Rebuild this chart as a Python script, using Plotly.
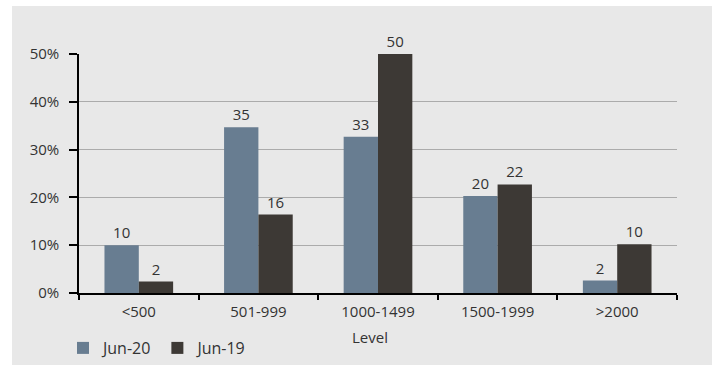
import plotly.graph_objects as go

categories = ["<500", "501-999", "1000-1499", "1500-1999", ">2000"]
jun20 = [10.0, 34.7, 32.7, 20.3, 2.6]
jun19 = [2.4, 16.4, 50.0, 22.7, 10.2]
jun20_labels = ["10", "35", "33", "20", "2"]
jun19_labels = ["2", "16", "50", "22", "10"]
y_ticks = [0, 10, 20, 30, 40, 50]
y_tick_labels = ["0%", "10%", "20%", "30%", "40%", "50%"]

FONT = "Open Sans"
TXT = "#333333"
BG = "#e8e8e8"

fig = go.Figure()
fig.add_trace(go.Bar(name="Jun-20", x=categories, y=jun20, text=jun20_labels,
                     textposition="outside", cliponaxis=False,
                     marker=dict(color="#687d91", line=dict(width=0)),
                     textfont=dict(family=FONT, size=15, color=TXT)))
fig.add_trace(go.Bar(name="Jun-19", x=categories, y=jun19, text=jun19_labels,
                     textposition="outside", cliponaxis=False,
                     marker=dict(color="#3d3935", line=dict(width=0)),
                     textfont=dict(family=FONT, size=15, color=TXT)))

L, R, T, B = 79, 35, 54, 72
W, H = 712, 365
pw, ph = W - L - R, H - T - B


def px_x(px):
    return (px - L) / pw


def px_y(py):
    return (T + ph - py) / ph


fig.update_layout(
    width=W, height=H,
    margin=dict(l=L, r=R, t=T, b=B, autoexpand=False),
    paper_bgcolor=BG, plot_bgcolor=BG,
    barmode="group", bargap=0.426, bargroupgap=0,
    font=dict(family=FONT, size=15, color=TXT),
    showlegend=True,
    legend=dict(orientation="h", xref="container", yref="container",
                x=63 / W, xanchor="left",
                y=1 - 348 / H, yanchor="middle",
                bgcolor="rgba(0,0,0,0)", font=dict(family=FONT, size=16, color=TXT),
                itemwidth=30, tracegroupgap=0),
    xaxis=dict(type="category", showline=True, linecolor="black", linewidth=2,
               ticks="outside", tickson="boundaries", ticklen=5, tickwidth=2,
               tickcolor="black", showgrid=False, ticklabelstandoff=4,
               tickfont=dict(family=FONT, size=15, color=TXT)),
    yaxis=dict(range=[0, 50], tickvals=y_ticks, ticktext=y_tick_labels,
               showline=True, linecolor="black", linewidth=1.5,
               ticks="outside", ticklen=8, tickwidth=1.5, tickcolor="black",
               showgrid=True, gridcolor="#ababab", gridwidth=1,
               zeroline=False, ticklabelstandoff=7,
               tickfont=dict(family=FONT, size=15, color=TXT)),
    annotations=[dict(text="Level", xref="paper", yref="paper",
                      x=px_x(370), y=px_y(337),
                      xanchor="center", yanchor="middle", showarrow=False,
                      font=dict(family=FONT, size=15, color=TXT))],
    shapes=[
        dict(type="rect", xref="paper", yref="paper",
             x0=px_x(0), x1=px_x(W), y0=px_y(0), y1=px_y(6),
             fillcolor="white", line=dict(width=0), layer="above"),
        dict(type="rect", xref="paper", yref="paper",
             x0=px_x(0), x1=px_x(12), y0=px_y(0), y1=px_y(H),
             fillcolor="white", line=dict(width=0), layer="above"),
    ],
)

fig.write_html("out.html")
